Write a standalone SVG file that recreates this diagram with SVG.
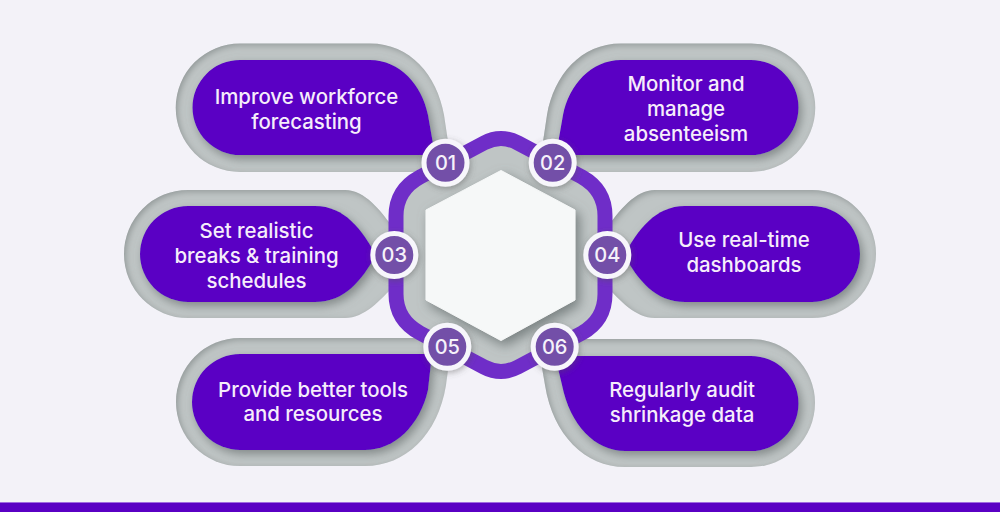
<svg xmlns="http://www.w3.org/2000/svg" width="1000" height="512" viewBox="0 0 1000 512">
<style>
.g{fill:#bfc5c5;filter:url(#inner)}
.p{fill:#5a00c4;filter:url(#pillshadow)}
.t{font-family:"Inter","Noto Sans","Liberation Sans",sans-serif;font-size:20.4px;font-weight:500;fill:#f6edfb;text-anchor:middle}
.n{font-family:"Inter","Noto Sans","Liberation Sans",sans-serif;font-size:20px;font-weight:500;fill:#f6f2fa;text-anchor:middle}
.c{fill:#7350a8;stroke:#f7f6fb;stroke-width:5;filter:url(#badge)}
</style>
<defs>
<filter id="pillshadow" x="-10%" y="-20%" width="125%" height="145%"><feDropShadow dx="3" dy="4" stdDeviation="5" flood-color="#6e7676" flood-opacity=".75"/></filter>
<filter id="badge" x="-30%" y="-30%" width="170%" height="170%"><feDropShadow dx="1" dy="2" stdDeviation="3" flood-color="#555" flood-opacity=".45"/></filter>
<filter id="hex" x="-15%" y="-15%" width="135%" height="135%"><feDropShadow dx="4" dy="5" stdDeviation="6" flood-color="#687070" flood-opacity=".8"/></filter>
<filter id="inner" x="-5%" y="-5%" width="110%" height="110%">
<feFlood flood-color="#808888" flood-opacity=".8"/><feComposite in2="SourceAlpha" operator="out"/><feOffset dx="2" dy="2"/><feGaussianBlur stdDeviation="3"/><feComposite in2="SourceAlpha" operator="in" result="s"/>
<feMerge><feMergeNode in="SourceGraphic"/><feMergeNode in="s"/></feMerge>
</filter>
</defs>
<rect width="1000" height="512" fill="#f3f2f8"/>
<rect y="502" width="1000" height="10" fill="#5a00c4"/>
<rect y="502" width="1000" height="1" fill="#a06be0"/>

<g id="card-01">
<path class="g" d="M240 43.5H370C410 43.5 437 75 444 115L450 155V172H240A64.25 64.25 0 0 1 240 43.5Z"/>
<path class="p" d="M240 60H370C400 60 422 85 428 115L435 155H240A47.5 47.5 0 0 1 240 60Z"/>
<text class="t" x="306.5" y="104">Improve workforce</text>
<text class="t" x="306.5" y="129">forecasting</text>
</g>
<g id="card-02">
<path class="g" d="M751 43.5H621C581 43.5 554 75 547 115L541 155V172H751A64.25 64.25 0 0 0 751 43.5Z"/>
<path class="p" d="M751 60H621C591 60 569 85 563 115L556 155H751A47.5 47.5 0 0 0 751 60Z"/>
<text class="t" x="686" y="91">Monitor and</text>
<text class="t" x="686" y="116">manage</text>
<text class="t" x="686" y="141">absenteeism</text>
</g>
<g id="card-03">
<path class="g" d="M188 190H345C365 190 380 210 395 230V285C380 300 365 318 345 318H188A64 64 0 0 1 188 190Z"/>
<path class="p" d="M188 206H315C345 206 362 230 376 255C362 280 345 302 315 302H188A48 48 0 0 1 188 206Z"/>
<text class="t" x="256.5" y="238">Set realistic</text>
<text class="t" x="256.5" y="263">breaks &amp; training</text>
<text class="t" x="256.5" y="288">schedules</text>
</g>
<g id="card-04">
<path class="g" d="M812 190H655C635 190 620 210 605 230V285C620 300 635 318 655 318H812A64 64 0 0 0 812 190Z"/>
<path class="p" d="M812 206H685C655 206 638 230 624 255C638 280 655 302 685 302H812A48 48 0 0 0 812 206Z"/>
<text class="t" x="744" y="247">Use real-time</text>
<text class="t" x="744" y="272">dashboards</text>
</g>
<g id="card-05">
<path class="g" d="M240 338H450V354L446 385C438 435 405 466 365 466H240A64 64 0 0 1 240 338Z"/>
<path class="p" d="M240 354H432L428 390C420 425 395 450 365 450H240A48 48 0 0 1 240 354Z"/>
<text class="t" x="313" y="397">Provide better tools</text>
<text class="t" x="313" y="421">and resources</text>
</g>
<g id="card-06">
<path class="g" d="M751 339H540V356L545 385C553 435 585 467 625 467H751A64 64 0 0 0 751 339Z"/>
<path class="p" d="M751 356H555L562 385C570 425 595 451 625 451H751A47.5 47.5 0 0 0 751 356Z"/>
<text class="t" x="682" y="397">Regularly audit</text>
<text class="t" x="682" y="422">shrinkage data</text>
</g>

<g id="hexagon">
<path d="M396 216Q396 190 420 177L484 143Q501 134 518 143L582 177Q605 190 605 216V294Q605 320 582 333L518 367Q501 376 484 367L420 333Q396 320 396 294Z" fill="#bfc5c5" stroke="#6f2dc8" stroke-width="15"/>
<path d="M501 170.500L575 210V300L501 340.500L426 300V210Z" fill="#f6f8f8" stroke="#f6f8f8" stroke-width="1" stroke-linejoin="round" filter="url(#hex)"/>
</g>

<g id="badge-01"><circle class="c" cx="445.500" cy="162.700" r="21.500"/><text class="n" x="445.500" y="170">01</text></g>
<g id="badge-02"><circle class="c" cx="552.700" cy="162.700" r="21.500"/><text class="n" x="552.700" y="170">02</text></g>
<g id="badge-03"><circle class="c" cx="394.300" cy="255" r="21.500"/><text class="n" x="394.300" y="262">03</text></g>
<g id="badge-04"><circle class="c" cx="607.300" cy="255" r="21.500"/><text class="n" x="607.300" y="262">04</text></g>
<g id="badge-05"><circle class="c" cx="447.300" cy="346.700" r="21.500"/><text class="n" x="447.300" y="354">05</text></g>
<g id="badge-06"><circle class="c" cx="554.700" cy="346.700" r="21.500"/><text class="n" x="554.700" y="354">06</text></g>
</svg>
